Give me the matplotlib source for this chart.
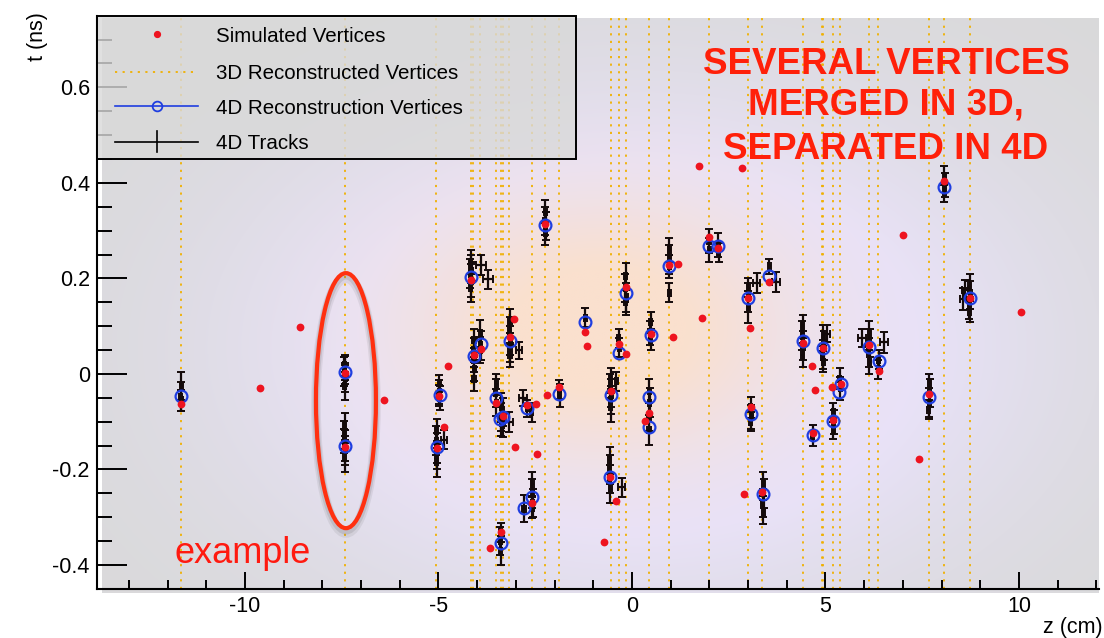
import numpy as np
import matplotlib.pyplot as plt
from matplotlib.patches import Ellipse, Rectangle
from matplotlib.lines import Line2D

plt.rcParams["font.family"] = ["Liberation Sans", "DejaVu Sans"]
plt.rcParams["axes.unicode_minus"] = False

# z (cm) of the 3D reconstructed vertices
vtx3d_z = [-11.65, -7.42, -5.06, -4.17, -4.10, -3.92, -3.51, -3.38, -3.34, -3.17,
           -2.57, -2.25, -1.88, -0.55, -0.34, -0.16, 0.45, 0.96, 1.98, 3.00,
           3.37, 4.41, 4.91, 4.94, 5.19, 5.37, 6.13, 6.37, 7.68, 8.07, 8.73]

# 4D reconstructed vertices
vtx4d_z = [-11.65, -7.42, -7.42, -4.96, -5.05, -4.17, -4.08, -3.91, -3.15, -3.52,
           -3.41, -3.33, -2.24, -2.72, -1.88, -1.21, -0.55, -0.16, -0.34, 0.48,
           0.45, 0.45, 0.96, -3.39, -2.57, -2.78, -0.57, 1.99, 2.23, 3.01,
           3.55, 3.07, 3.39, 4.41, 4.94, 5.39, 5.35, 5.20, 4.67, 6.13,
           6.38, 8.07, 8.73, 7.68]
vtx4d_t = [-0.047, 0.005, -0.150, -0.045, -0.154, 0.203, 0.038, 0.063, 0.069, -0.051,
           -0.094, -0.091, 0.312, -0.071, -0.042, 0.108, -0.045, 0.169, 0.043, 0.082,
           -0.049, -0.112, 0.225, -0.355, -0.258, -0.281, -0.216, 0.268, 0.268, 0.159,
           0.204, -0.084, -0.251, 0.068, 0.055, -0.021, -0.037, -0.098, -0.128, 0.057,
           0.028, 0.392, 0.159, -0.048]

# simulated vertices
sim_z = [-11.65, -9.62, -8.58, -6.40, -7.42, -7.42, -4.98, -5.05, -4.85, -4.76,
         -4.17, -4.08, -3.91, -3.15, -3.04, -3.52, -3.33, -2.24, -2.72, -2.48,
         -2.20, -1.88, -1.21, -1.16, -0.55, -0.16, -0.34, -0.16, 0.48, 1.07,
         0.44, 0.34, 0.96, 1.20, 1.82, -3.39, -3.67, -2.58, -3.02, -2.46,
         -0.57, -0.41, -0.72, 1.74, 2.84, 1.99, 2.23, 3.01, 3.05, 3.55,
         3.07, 2.89, 3.36, 4.41, 4.94, 4.64, 4.73, 5.16, 5.39, 5.20,
         4.67, 6.13, 6.38, 8.07, 7.01, 8.73, 7.68, 7.42, 10.04]
sim_t = [-0.063, -0.030, 0.098, -0.055, 0.001, -0.153, -0.046, -0.156, -0.112, 0.017,
         0.196, 0.040, 0.052, 0.077, 0.115, -0.061, -0.088, 0.314, -0.066, -0.063,
         -0.045, -0.027, 0.088, 0.059, -0.036, 0.183, 0.063, 0.041, 0.084, 0.078,
         -0.082, -0.098, 0.227, 0.230, 0.116, -0.330, -0.364, -0.271, -0.154, -0.168,
         -0.216, -0.267, -0.352, 0.436, 0.431, 0.286, 0.263, 0.159, 0.096, 0.193,
         -0.070, -0.251, -0.247, 0.064, 0.055, 0.017, -0.034, -0.027, -0.021, -0.096,
         -0.124, 0.061, 0.007, 0.404, 0.291, 0.159, -0.043, -0.179, 0.130]

# 4D tracks: z (cm), t (ns), t error, z error -- one line per vertex group
trk_z = [-11.65, -11.66, -11.64,
         -7.42, -7.43, -7.41, -7.42, -7.42, -7.41,
         -7.42, -7.43, -7.42, -7.41, -7.42, -7.43,
         -4.98, -4.97, -4.99, -4.98,
         -5.05, -5.06, -5.05, -5.04, -5.05, -4.85,
         -4.17, -4.16, -4.18, -4.15, -4.17, -4.14, -3.90, -3.71,
         -4.08, -4.09, -4.08, -4.07, -4.08, -3.92, -3.91, -3.92,
         -3.15, -3.16, -3.14, -3.15, -3.15, -2.92,
         -3.51, -3.52, -3.51, -3.38, -3.39, -3.38, -3.34, -3.34, -3.17,
         -2.24, -2.25, -2.23, -2.24,
         -2.81, -2.59, -2.70,
         -1.88, -1.87,
         -1.21,
         -0.55, -0.56, -0.54, -0.55, -0.55, -0.40,
         -0.16, -0.17, -0.15, -0.16,
         -0.34, -0.33,
         0.48, 0.47, 0.48,
         0.45, 0.46, 0.45, 0.44,
         0.96, 0.97, 0.96, 0.96,
         -3.39, -3.40, -3.39,
         -2.57, -2.58, -2.56, -2.57, -2.79,
         -0.57, -0.58, -0.57, -0.56, -0.27,
         1.99, 2.00, 2.23, 2.24,
         3.00, 3.01, 3.00, 3.22,
         3.55, 3.72,
         3.07, 3.08, 3.07,
         3.39, 3.40, 3.38, 3.39,
         4.41, 4.40, 4.42, 4.41,
         4.94, 4.95, 4.93, 4.94, 5.03,
         5.37, 5.38,
         5.20, 5.21, 5.20,
         4.67,
         6.13, 6.14, 6.12, 6.13, 5.94, 6.51,
         6.38, 6.37,
         8.07, 8.08, 8.07,
         8.73, 8.74, 8.72, 8.73, 8.55, 8.60,
         7.68, 7.69, 7.68, 7.67]
trk_t = [-0.025, -0.048, -0.055,
         0.018, 0.005, -0.008, 0.012, -0.025, -0.002,
         -0.110, -0.128, -0.150, -0.160, -0.175, -0.140,
         -0.038, -0.050, -0.045, -0.020,
         -0.120, -0.140, -0.155, -0.170, -0.185, -0.138,
         0.235, 0.220, 0.210, 0.195, 0.180, 0.215, 0.228, 0.198,
         0.070, 0.050, 0.030, 0.010, -0.010, 0.085, 0.060, 0.050,
         0.110, 0.090, 0.070, 0.055, 0.040, 0.049,
         -0.022, -0.040, -0.060, -0.070, -0.090, -0.100, -0.080, -0.108, -0.100,
         0.340, 0.320, 0.310, 0.295,
         -0.051, -0.080, -0.072,
         -0.032, -0.045,
         0.118,
         -0.010, -0.025, -0.040, -0.055, -0.070, -0.015,
         0.205, 0.180, 0.160, 0.150,
         0.075, 0.055,
         0.108, 0.085, 0.072,
         -0.035, -0.060, -0.090, -0.118,
         0.260, 0.240, 0.225, 0.170,
         -0.332, -0.350, -0.370,
         -0.230, -0.250, -0.270, -0.280, -0.282,
         -0.180, -0.200, -0.220, -0.240, -0.237,
         0.278, 0.260, 0.270, 0.255,
         0.180, 0.160, 0.140, 0.190,
         0.225, 0.193,
         -0.070, -0.090, -0.100,
         -0.230, -0.250, -0.270, -0.290,
         0.100, 0.080, 0.060, 0.040,
         0.080, 0.060, 0.040, 0.025, 0.084,
         -0.010, -0.030,
         -0.080, -0.100, -0.115,
         -0.130,
         0.085, 0.065, 0.045, 0.025, 0.075, 0.066,
         0.030, 0.010,
         0.415, 0.395, 0.380,
         0.185, 0.165, 0.145, 0.130, 0.156, 0.176,
         -0.020, -0.040, -0.060, -0.075]
trk_dt = [0.030, 0.030, 0.022,
          0.022, 0.030, 0.030, 0.025, 0.030, 0.020,
          0.028, 0.030, 0.032, 0.030, 0.030, 0.025,
          0.025, 0.025, 0.022, 0.018,
          0.026, 0.030, 0.032, 0.030, 0.030, 0.020,
          0.025, 0.030, 0.030, 0.035, 0.030, 0.020, 0.021, 0.020,
          0.025, 0.025, 0.025, 0.025, 0.025, 0.028, 0.030, 0.027,
          0.025, 0.030, 0.030, 0.030, 0.025, 0.018,
          0.022, 0.030, 0.028, 0.030, 0.030, 0.030, 0.030, 0.025, 0.021,
          0.024, 0.030, 0.030, 0.025,
          0.017, 0.020, 0.018,
          0.020, 0.024,
          0.020,
          0.022, 0.025, 0.030, 0.030, 0.030, 0.020,
          0.027, 0.030, 0.030, 0.026,
          0.020, 0.020,
          0.022, 0.025, 0.022,
          0.025, 0.030, 0.030, 0.031,
          0.025, 0.030, 0.025, 0.020,
          0.020, 0.030, 0.030,
          0.025, 0.030, 0.030, 0.022, 0.028,
          0.027, 0.030, 0.030, 0.030, 0.020,
          0.025, 0.025, 0.025, 0.020,
          0.020, 0.030, 0.033, 0.021,
          0.016, 0.021,
          0.022, 0.025, 0.020,
          0.025, 0.030, 0.030, 0.025,
          0.024, 0.030, 0.030, 0.025,
          0.022, 0.030, 0.030, 0.022, 0.018,
          0.022, 0.024,
          0.020, 0.025, 0.022,
          0.022,
          0.025, 0.030, 0.030, 0.025, 0.019, 0.022,
          0.020, 0.020,
          0.020, 0.025, 0.020,
          0.025, 0.030, 0.030, 0.022, 0.023, 0.020,
          0.020, 0.030, 0.030, 0.020]
trk_dz = [0.04, 0.04, 0.04,
          0.04, 0.04, 0.04, 0.04, 0.04, 0.04,
          0.04, 0.04, 0.04, 0.04, 0.04, 0.04,
          0.04, 0.04, 0.04, 0.04,
          0.04, 0.04, 0.04, 0.04, 0.04, 0.08,
          0.04, 0.04, 0.04, 0.04, 0.04, 0.04, 0.13, 0.13,
          0.04, 0.04, 0.04, 0.04, 0.04, 0.04, 0.04, 0.04,
          0.04, 0.04, 0.04, 0.04, 0.04, 0.08,
          0.04, 0.04, 0.04, 0.04, 0.04, 0.04, 0.04, 0.04, 0.10,
          0.04, 0.04, 0.04, 0.04,
          0.10, 0.04, 0.04,
          0.04, 0.04,
          0.04,
          0.04, 0.04, 0.04, 0.04, 0.04, 0.04,
          0.04, 0.04, 0.04, 0.04,
          0.04, 0.04,
          0.04, 0.04, 0.04,
          0.04, 0.04, 0.04, 0.04,
          0.04, 0.04, 0.04, 0.04,
          0.04, 0.04, 0.04,
          0.04, 0.04, 0.04, 0.04, 0.04,
          0.04, 0.04, 0.04, 0.04, 0.08,
          0.04, 0.04, 0.04, 0.04,
          0.04, 0.04, 0.04, 0.10,
          0.04, 0.10,
          0.04, 0.04, 0.04,
          0.04, 0.04, 0.04, 0.04,
          0.04, 0.04, 0.04, 0.04,
          0.04, 0.04, 0.04, 0.04, 0.08,
          0.04, 0.04,
          0.04, 0.04, 0.04,
          0.04,
          0.04, 0.04, 0.04, 0.04, 0.10, 0.10,
          0.04, 0.04,
          0.04, 0.04, 0.04,
          0.04, 0.04, 0.04, 0.04, 0.08, 0.08,
          0.04, 0.04, 0.04, 0.04]

x_ticks = [-10, -5, 0, 5, 10]
y_ticks = [-0.4, -0.2, 0.0, 0.2, 0.4, 0.6]
y_tick_labels = ["-0.4", "-0.2", "0", "0.2", "0.4", "0.6"]

legend_labels = ["Simulated Vertices", "3D Reconstructed Vertices",
                 "4D Reconstruction Vertices", "4D Tracks"]
note_lines = ["SEVERAL VERTICES", "MERGED IN 3D,", "SEPARATED IN 4D"]

W, H = 1104, 638
ZMIN, ZMAX = -13.83, 12.06
TMIN, TMAX = -0.451, 0.750

RED = "#ee1420"
BLUE = "#1f3ee0"
GOLD = "#f0b000"
TRK = "#140a0a"


def fx(px):
    return px / W


def fy(py):
    return 1 - py / H


def beam_spot_background(ax):
    """Soft grey / lavender / peach backdrop behind the vertices"""
    zz, tt = np.meshgrid(np.linspace(ZMIN, ZMAX, 400), np.linspace(TMIN, TMAX, 300))
    w1 = np.exp(-0.5 * (((zz - 0.0) / 6.5) ** 2 + ((tt - 0.06) / 0.34) ** 2))
    w1 = np.clip(1.9 * w1, 0, 1)
    w2 = np.exp(-0.5 * (((zz + 0.9) / 3.4) ** 2 + ((tt - 0.10) / 0.19) ** 2))
    w2 = np.clip(1.25 * w2, 0, 1)
    grey = np.array([217, 217, 217]) / 255
    lav = np.array([232, 226, 250]) / 255
    peach = np.array([250, 224, 206]) / 255
    img = grey * (1 - w1[..., None]) + lav * w1[..., None]
    img = img * (1 - w2[..., None]) + peach * w2[..., None]
    dz = 5 / 38.7
    ax.imshow(img, origin="lower", aspect="auto", interpolation="bilinear",
              extent=(ZMIN + dz, ZMAX, TMIN - 4 / 477.5, TMAX - 3 / 477.5),
              zorder=0, clip_on=False)


def draw_legend(fig):
    """Legend box in the top-left corner of the frame"""
    x0, x1, y0, y1 = 96.7, 575.7, 15.7, 159.0
    fig.patches.append(Rectangle((fx(x0), fy(y1)), fx(x1) - fx(x0), fy(y0) - fy(y1),
                                 transform=fig.transFigure, facecolor=(0.85, 0.85, 0.85, 0.8),
                                 edgecolor="black", linewidth=1.4, zorder=6))
    rows = [34, 71.7, 106, 141.7]
    hx0, hx1, hc = 115, 198, 156.7
    tf = fig.transFigure
    fig.lines.append(Line2D([fx(hc)], [fy(rows[0])], transform=tf, ls="none",
                            marker="o", ms=4.2, color=RED, zorder=7))
    fig.lines.append(Line2D([fx(hx0), fx(hx1)], [fy(rows[1])] * 2, transform=tf,
                            color=GOLD, lw=1.3, dashes=(1.2, 3.0), zorder=7))
    fig.lines.append(Line2D([fx(hx0), fx(hx1)], [fy(rows[2])] * 2, transform=tf,
                            color=BLUE, lw=1.2, zorder=7))
    fig.lines.append(Line2D([fx(hc)], [fy(rows[2])], transform=tf, ls="none", marker="o",
                            ms=7.0, mfc="none", mec=BLUE, mew=1.3, zorder=8))
    fig.lines.append(Line2D([fx(hx0), fx(hx1)], [fy(rows[3])] * 2, transform=tf,
                            color="black", lw=1.2, zorder=7))
    fig.lines.append(Line2D([fx(hc)] * 2, [fy(rows[3] - 10.5), fy(rows[3] + 10.5)],
                            transform=tf, color="black", lw=1.2, zorder=7))
    for y, label in zip(rows, legend_labels):
        fig.text(fx(216), fy(y + 7.5), label, fontsize=14.8, va="baseline",
                 ha="left", zorder=8)


def main():
    fig = plt.figure(figsize=(W / 100, H / 100), dpi=100)
    ax = fig.add_axes([fx(96.7), fy(589.3), fx(1098.7) - fx(96.7), fy(15.7) - fy(589.3)])
    ax.set_facecolor("white")
    ax.set_xlim(ZMIN, ZMAX)
    ax.set_ylim(TMIN, TMAX)

    beam_spot_background(ax)

    # 3D vertices as dotted vertical lines
    for z in vtx3d_z:
        ax.axvline(z, color=GOLD, lw=1.3, dashes=(1.2, 3.0), zorder=1)

    # tracks with time and z errors
    ax.errorbar(trk_z, trk_t, yerr=trk_dt, xerr=trk_dz, fmt="none", ecolor=TRK,
                elinewidth=1.6, capsize=2.6, capthick=1.4, zorder=2)

    ax.plot(vtx4d_z, vtx4d_t, "o", ls="none", ms=8.5, mfc="none", mec=BLUE, mew=1.6, zorder=3)
    ax.plot(sim_z, sim_t, "o", ls="none", ms=5.6, color=RED, mec="none", zorder=4)

    # highlighted pair: drop shadow then outline
    for off, lw, a in [(0.010, 7, 0.10), (0.006, 5, 0.15)]:
        ax.add_patch(Ellipse((-7.39, -0.056 - off), 1.55, 0.534, fill=False,
                             edgecolor="#555555", lw=lw, alpha=a, zorder=5))
    ax.add_patch(Ellipse((-7.39, -0.056), 1.55, 0.534, fill=False,
                         edgecolor="#ff3010", lw=3.0, zorder=5))
    ax.text(-11.81, -0.396, "example", color="#ff1a10", fontsize=26, zorder=6)

    # axes in ROOT style: inward ticks, left and bottom only
    for side in ["top", "right"]:
        ax.spines[side].set_visible(False)
    for side in ["left", "bottom"]:
        ax.spines[side].set_linewidth(1.5)
        ax.spines[side].set_zorder(7)
    ax.set_xticks(x_ticks)
    ax.set_xticks(np.arange(-13, 13), minor=True)
    ax.set_yticks(y_ticks)
    ax.set_yticklabels(y_tick_labels)
    ax.set_yticks(np.arange(-0.45, 0.75, 0.05), minor=True)
    ax.tick_params(axis="x", which="major", direction="in", length=12.2, width=1.4,
                   labelsize=15.5, pad=5)
    ax.tick_params(axis="x", which="minor", direction="in", length=6.5, width=1.4)
    ax.tick_params(axis="y", which="major", direction="in", length=21.6, width=1.4,
                   labelsize=15.5, pad=5)
    ax.tick_params(axis="y", which="minor", direction="in", length=10.8, width=1.4)

    fig.text(fx(37), fy(12), "t (ns)", rotation=90, ha="center", va="top", fontsize=15.5)
    fig.text(fx(1103), fy(633), "z (cm)", ha="right", va="baseline", fontsize=15.5)

    draw_legend(fig)

    for y, line in zip([74, 114, 159], note_lines):
        fig.text(fx(886), fy(y), line, color="#ff200a", fontsize=26.5,
                 fontweight="bold", ha="center", va="baseline", zorder=9)

    fig.savefig("out.png", dpi=100)
    plt.close(fig)


main()
